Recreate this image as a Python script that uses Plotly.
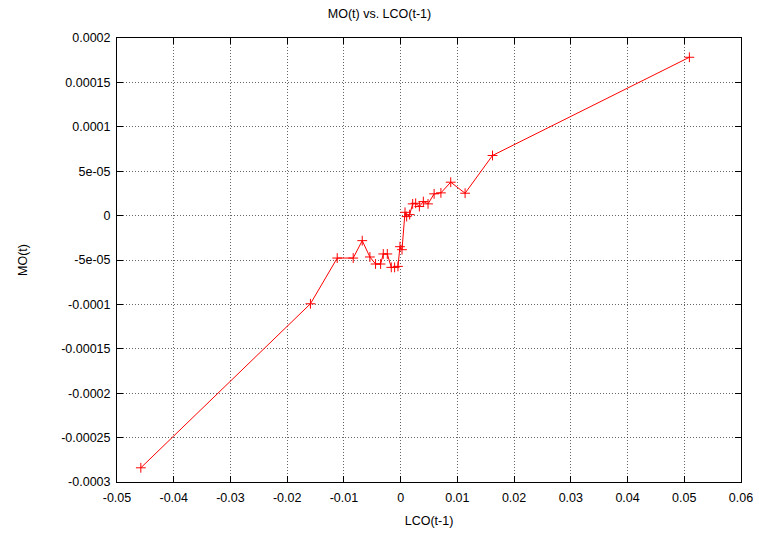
import plotly.graph_objects as go

# LCO(t-1) vs MO(t) observations, in path order
lco = [-0.0458, -0.0159, -0.01118, -0.00836, -0.00677, -0.00542, -0.00442, -0.00353,
       -0.00306, -0.00235, -0.00165, -0.00106, -0.00047, -0.00012, 0.00024, 0.00077,
       0.00106, 0.00159, 0.00212, 0.00265, 0.0033, 0.0040, 0.00483, 0.0059, 0.0071,
       0.00883, 0.01136, 0.0162, 0.0509]
mo = [-2.84e-4, -9.93e-5, -4.78e-5, -4.78e-5, -2.82e-5, -4.66e-5, -5.45e-5, -5.45e-5,
      -4.32e-5, -4.32e-5, -5.83e-5, -5.83e-5, -5.72e-5, -3.5e-5, -3.84e-5, 3.7e-6,
      -1.1e-6, 1.1e-6, 1.32e-5, 1.39e-5, 1.02e-5, 1.58e-5, 1.32e-5, 2.45e-5, 2.56e-5,
      3.76e-5, 2.52e-5, 6.77e-5, 1.783e-4]

x_ticks = [-0.05, -0.04, -0.03, -0.02, -0.01, 0, 0.01, 0.02, 0.03, 0.04, 0.05, 0.06]
x_labels = ["-0.05", "-0.04", "-0.03", "-0.02", "-0.01", "0", "0.01", "0.02", "0.03",
            "0.04", "0.05", "0.06"]
y_ticks = [0.0002, 0.00015, 0.0001, 5e-05, 0, -5e-05, -0.0001, -0.00015, -0.0002,
           -0.00025, -0.0003]
y_labels = ["0.0002", "0.00015", "0.0001", "5e-05", "0", "-5e-05", "-0.0001",
            "-0.00015", "-0.0002", "-0.00025", "-0.0003"]

FONT = "Liberation Sans, Arial, sans-serif"

fig = go.Figure()
fig.add_trace(go.Scatter(
    x=lco, y=mo, mode="lines+markers",
    line=dict(color="#ff0000", width=1),
    marker=dict(symbol="cross-thin", size=7, line=dict(color="#ff0000", width=1)),
    showlegend=False,
))

axis_common = dict(
    showline=True, linecolor="black", linewidth=1, mirror="ticks",
    ticks="inside", ticklen=6, tickcolor="black",
    showgrid=True, gridcolor="rgba(0,0,0,0.6)", gridwidth=1, griddash="1px,2px",
    zeroline=False, automargin=False,
    tickfont=dict(family=FONT, size=12.5, color="black"),
)

fig.update_layout(
    width=759, height=533,
    margin=dict(l=117, r=18, t=38, b=51),
    paper_bgcolor="white", plot_bgcolor="white",
    title=dict(text="MO(t) vs. LCO(t-1)", x=0.5, xanchor="center", y=0.982, yanchor="top",
               font=dict(family=FONT, size=12.5, color="black")),
    xaxis=dict(range=[-0.05, 0.06], tickvals=x_ticks, ticktext=x_labels,
               ticklabelstandoff=4,
               title=dict(text="LCO(t-1)", standoff=12,
                          font=dict(family=FONT, size=12.5, color="black")),
               **axis_common),
    yaxis=dict(range=[-0.0003, 0.0002], tickvals=y_ticks, ticktext=y_labels,
               ticklabelstandoff=3,
               title=dict(text="MO(t)", standoff=30,
                          font=dict(family=FONT, size=12.5, color="black")),
               **axis_common),
)

fig.write_html("out.html")
